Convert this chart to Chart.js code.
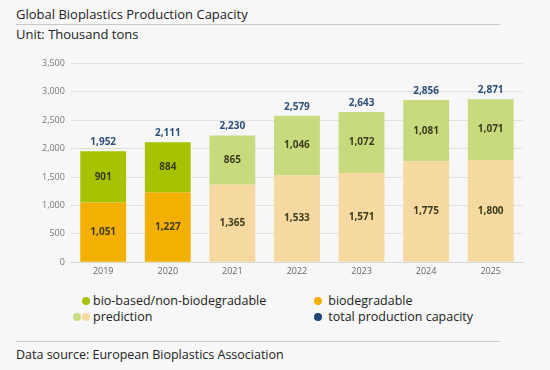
<!DOCTYPE html>
<html>
<head>
<meta charset="utf-8">
<script src="https://cdn.jsdelivr.net/npm/chart.js@4/dist/chart.umd.min.js"></script>
<style>
  body { margin: 0; background: #f7f7f7; font-family: "Open Sans", "Noto Sans", sans-serif; color: #222; }
  #wrap { position: relative; width: 550px; height: 370px; overflow: hidden; }
  .title { position: absolute; left: 16px; top: 5px; font-size: 13px; }
  .unit { position: absolute; left: 16px; top: 25px; font-size: 13px; }
  .rule { position: absolute; left: 16px; width: 484px; height: 1px; background: #c8c8c8; }
  #chartBox { position: absolute; left: 0; top: 52px; width: 550px; height: 229px; }
  .leg { position: absolute; font-size: 12.5px; white-space: nowrap; }
  .dot { display: inline-block; width: 8px; height: 8px; border-radius: 50%; margin-right: 3px; vertical-align: 0px; }
  .src { position: absolute; left: 16px; top: 346px; font-size: 12.5px; }
</style>
</head>
<body>
<div id="wrap">
  <div class="title">Global Bioplastics Production Capacity</div>
  <div class="rule" style="top:24px"></div>
  <div class="unit">Unit: Thousand tons</div>
  <div id="chartBox"><canvas id="capacityChart"></canvas></div>
  <div class="leg" style="left:82px;top:292px"><span class="dot" style="background:#a6c200"></span>bio-based/non-biodegradable</div>
  <div class="leg" style="left:314px;top:292px"><span class="dot" style="background:#f4b000"></span>&nbsp;biodegradable</div>
  <div class="leg" style="left:73px;top:308px"><span class="dot" style="background:#c8db7f;margin-right:1px"></span><span class="dot" style="background:#f3d8a2"></span>prediction</div>
  <div class="leg" style="left:314px;top:308px"><span class="dot" style="background:#1f4673"></span>&nbsp;total production capacity</div>
  <div class="rule" style="top:341px"></div>
  <div class="src">Data source: European Bioplastics Association</div>
</div>
<script>
const years = ['2019', '2020', '2021', '2022', '2023', '2024', '2025'];
const biodegradable = [1051, 1227, 1365, 1533, 1571, 1775, 1800];
const bioBased = [901, 884, 865, 1046, 1072, 1081, 1071];
const totals = [1952, 2111, 2230, 2579, 2643, 2856, 2871];
const isPrediction = [false, false, true, true, true, true, true];
const yTicks = [0, 500, 1000, 1500, 2000, 2500, 3000, 3500];

const fmt = n => n.toLocaleString('en-US');

// value labels inside bars + totals above
const barLabels = {
    id: 'barLabels',
    afterDatasetsDraw(chart) {
        const ctx = chart.ctx;
        ctx.save();
        ctx.textAlign = 'center';
        ctx.textBaseline = 'middle';
        ctx.font = 'bold 10px "Open Sans", sans-serif';
        ctx.fillStyle = '#3c3c1e';
        chart.data.datasets.forEach((ds, di) => {
            chart.getDatasetMeta(di).data.forEach((bar, i) => {
                const mid = (bar.y + bar.base) / 2;
                ctx.fillText(fmt(ds.data[i]), bar.x, mid);
            });
        });
        ctx.fillStyle = '#2d4f77';
        const top = chart.getDatasetMeta(1).data;
        top.forEach((bar, i) => {
            ctx.fillText(fmt(totals[i]), bar.x, bar.y - 9);
        });
        ctx.restore();
    }
};

new Chart(document.getElementById('capacityChart'), {
    type: 'bar',
    data: {
        labels: years,
        datasets: [{
            label: 'biodegradable',
            data: biodegradable,
            backgroundColor: isPrediction.map(p => p ? '#f5d9a0' : '#f4b000')
        }, {
            label: 'bio-based/non-biodegradable',
            data: bioBased,
            backgroundColor: isPrediction.map(p => p ? '#c8da7e' : '#a7c300')
        }]
    },
    options: {
        responsive: true,
        maintainAspectRatio: false,
        animation: false,
        categoryPercentage: 0.71,
        barPercentage: 1,
        layout: { padding: { left: 36, right: 27, top: 8, bottom: 0 } },
        plugins: { legend: { display: false }, tooltip: { enabled: false } },
        scales: {
            x: {
                stacked: true,
                grid: { display: false, drawTicks: false },
                border: { color: '#d8d8d8' },
                ticks: { color: '#666', font: { size: 9, family: '"Open Sans", sans-serif' }, padding: 4 }
            },
            y: {
                stacked: true,
                min: 0,
                max: 3500,
                afterBuildTicks: axis => { axis.ticks = yTicks.map(v => ({ value: v })); },
                grid: { color: '#e0e0e0', drawTicks: false },
                border: { display: false },
                ticks: {
                    color: '#777',
                    padding: 6,
                    font: { size: 9, family: '"Open Sans", sans-serif' },
                    callback: v => fmt(v)
                }
            }
        }
    },
    plugins: [barLabels]
});
</script>
</body>
</html>
